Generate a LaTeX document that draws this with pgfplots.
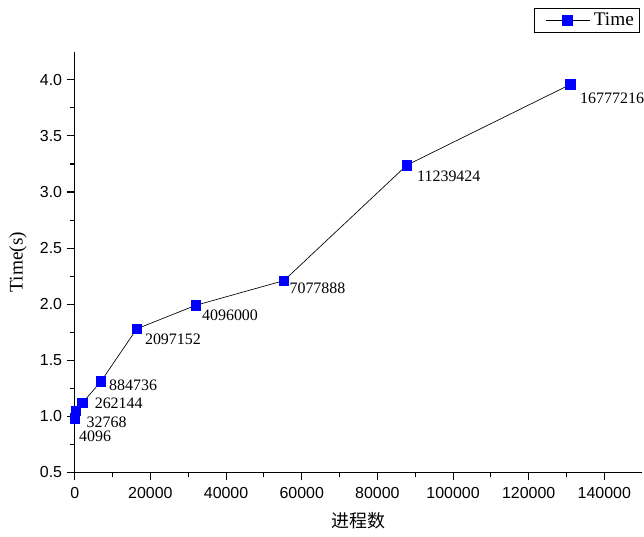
\documentclass[border=0pt]{standalone}
\usepackage{fontspec}
\setmainfont{Liberation Serif}
\setsansfont{Liberation Sans}
\newfontfamily\cjk{Noto Sans CJK SC}
\usepackage{pgfplots}
\pgfplotsset{compat=1.18}
\usepackage{pgfplotstable}
\pgfplotstableread{
x y lab dx dy
32 0.98 4096 3 -13.5
256 1.05 32768 8 -9
2048 1.12 262144 9 -0.5
6912 1.31 884736 6 -2.5
16384 1.78 2097152 6 -7.5
32000 1.99 4096000 4.5 -7.5
55296 2.21 7077888 4 -5.5
87808 3.24 11239424 7.5 -8.5
131072 3.96 16777216 7 -10.5
}\datatable
\begin{document}
\begin{tikzpicture}
\begin{axis}[
  scale only axis, width=427pt, height=316.5pt,
  xmin=0, xmax=150000, ymin=0.5, ymax=4.25,
  axis lines*=left,
  axis line style={line width=0.8pt},
  tick align=outside,
  tick style={black, line width=0.8pt},
  xtick={0,20000,40000,60000,80000,100000,120000,140000},
  xticklabels={0,20000,40000,60000,80000,100000,120000,140000},
  minor x tick num=1,
  ytick={0.5,1,1.5,2,2.5,3,3.5,4},
  yticklabels={0.5,1.0,1.5,2.0,2.5,3.0,3.5,4.0},
  minor y tick num=1,
  major tick length=6pt, minor tick length=3.75pt,
  scaled x ticks=false,
  ticklabel style={font=\sffamily\fontsize{12}{14}\selectfont},
  xticklabel style={yshift=-2pt},
  xlabel={\cjk 进程数}, ylabel={Time(s)},
  xlabel style={at={(axis description cs:0.5,-0.116)}, anchor=center,
    font=\fontsize{13.5}{15}\selectfont},
  ylabel style={at={(axis description cs:-0.1,0.5)}, anchor=center, inner sep=0pt,
    font=\fontsize{14.5}{16}\selectfont},
  legend style={at={(1,1)}, anchor=south east, yshift=14.25pt, xshift=-1.5pt,
    draw=black, line width=0.6pt,
    font=\fontsize{14.5}{16}\selectfont, inner xsep=1.5pt, inner ysep=2.5pt,
    nodes={inner ysep=1pt, inner xsep=3pt}},
  legend cell align=left,
  legend image code/.code={\path (-7pt,0pt);
    \draw[mark repeat=2, mark phase=2, #1]
    plot coordinates {(0pt,0pt) (16.5pt,0pt) (33pt,0pt)};},
  clip=false,
]
\addplot[black, line width=0.5pt, mark=square*, mark size=3.6pt,
  mark options={fill=blue, draw=blue},
  nodes near coords,
  point meta=explicit symbolic,
  visualization depends on={\thisrow{dx} \as \dx},
  visualization depends on={\thisrow{dy} \as \dy},
  every node near coord/.append style={anchor=west, inner sep=0pt,
    xshift=\dx pt, yshift=\dy pt, font=\fontsize{12}{14}\selectfont, black},
] table[x=x, y=y, meta=lab] {\datatable};
\addlegendentry{Time}
\path (rel axis cs:1,1) ++(0pt,39pt);
\path (rel axis cs:0,0) ++(-56.25pt,-48pt);
\end{axis}
\end{tikzpicture}
\end{document}
